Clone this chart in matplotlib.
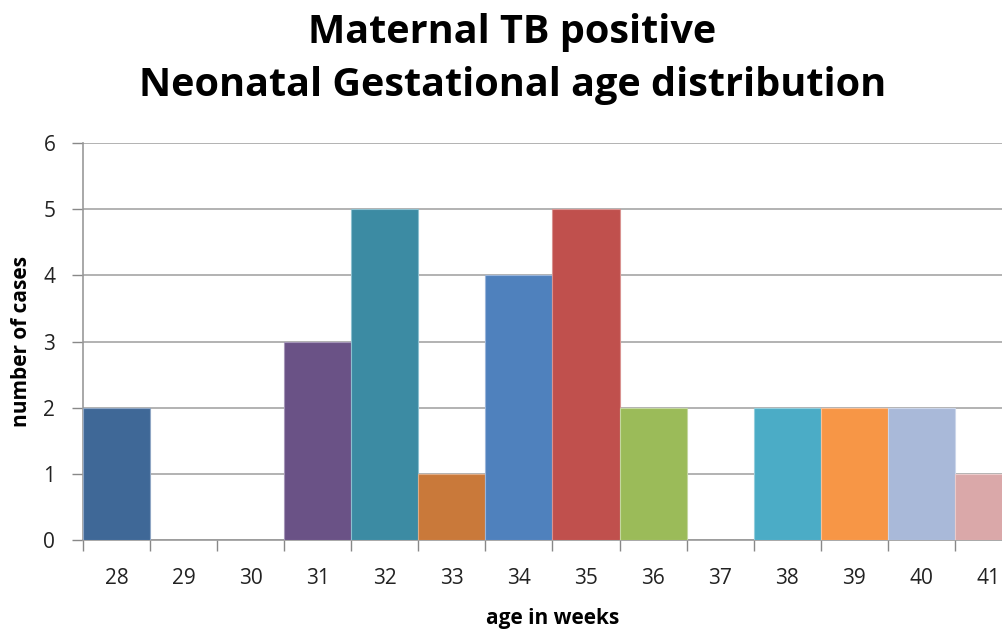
import matplotlib
matplotlib.use("Agg")
import matplotlib.pyplot as plt
import numpy as np

# === Data ===
weeks = ["28", "29", "30", "31", "32", "33", "34", "35", "36", "37", "38", "39", "40", "41"]
cases = [2, 0, 0, 3, 5, 1, 4, 5, 2, 0, 2, 2, 2, 1]
colors = ["#3F6897", "#FFFFFF", "#FFFFFF", "#6A5286", "#3C8BA3", "#C9793A", "#4F81BD",
          "#C0504D", "#9BBB59", "#FFFFFF", "#4BACC6", "#F79646", "#A9B9D9", "#DAA8A9"]
edges = ["#8FA6C4", "none", "none", "#A596B8", "#8CC0CF", "#E0AC85", "#9AB5DA",
         "#D99290", "#C4D7A0", "none", "#93CEDC", "#FAC096", "#CCD6EA", "#EBCBCB"]

plt.rcParams['font.family'] = ['Open Sans', 'DejaVu Sans']

fig = plt.figure(figsize=(10.03, 6.30), dpi=100)
ax = fig.add_axes([0.0828, 0.1429, 0.936, 0.630])

x = np.arange(len(weeks))
for i in range(len(weeks)):
    if cases[i] > 0:
        ax.bar(x[i], cases[i], width=1.0, color=colors[i], edgecolor=edges[i],
               linewidth=0.8, zorder=3)

ax.set_xlim(-0.5, len(weeks) - 0.5)
ax.set_ylim(0, 6)
ax.set_yticks(range(7))
ax.set_xticks(x)
ax.set_xticklabels(weeks)
ax.set_xticks(np.arange(-0.5, len(weeks), 1.0), minor=True)
ax.tick_params(axis='x', which='major', length=0, labelsize=15, pad=20, colors='#222222')
ax.tick_params(axis='x', which='minor', length=8, color='#888888', width=1)
ax.tick_params(axis='y', length=8, color='#888888', width=1, labelsize=15, pad=12,
               colors='#222222')
ax.tick_params(axis='y', color='#888888')

ax.yaxis.grid(True, color='#A6A6A6', linewidth=1.2, zorder=0)
for s in ['top', 'right']:
    ax.spines[s].set_visible(False)
ax.spines['left'].set_color('#999999')
ax.spines['bottom'].set_color('#999999')
ax.spines['left'].set_linewidth(1.2)
ax.spines['bottom'].set_linewidth(1.2)
ax.set_axisbelow(True)

ax.set_xlabel("age in weeks", fontsize=15, fontweight='bold', labelpad=14)
ax.set_ylabel("number of cases", fontsize=15, fontweight='bold', labelpad=8)

fig.text(0.511, 0.98, "Maternal TB positive\nNeonatal Gestational age distribution",
         ha='center', va='top', fontsize=28.5, fontweight='bold', linespacing=1.48)

fig.savefig("out.png", dpi=100)
